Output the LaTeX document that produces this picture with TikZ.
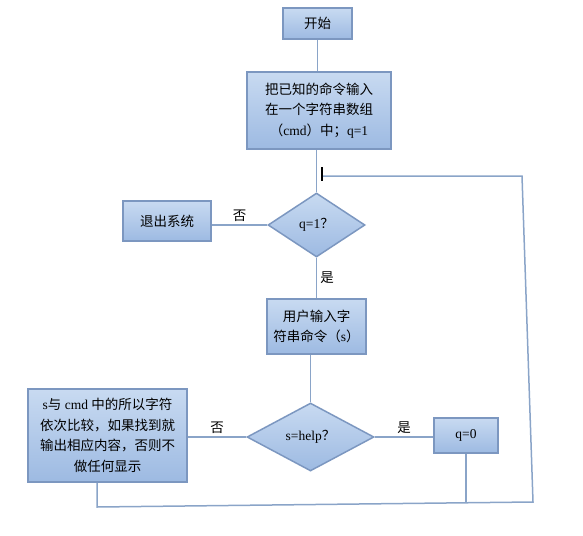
\documentclass[tikz,border=0pt]{standalone}
\usepackage{fontspec}
\setmainfont{Liberation Serif}
\newfontfamily\cjkfont{Noto Sans CJK SC}
\usetikzlibrary{shapes.geometric}
\definecolor{lineblue}{HTML}{8AA4C8}
\definecolor{edgeblue}{HTML}{7C97C0}
\definecolor{topblue}{HTML}{C8DAF1}
\definecolor{botblue}{HTML}{9DBAE2}
\newcommand{\zh}[1]{{\cjkfont #1}}
\tikzstyle{box}=[draw=edgeblue, line width=1.5pt, top color=topblue, bottom color=botblue, align=center, inner sep=2pt, font=\fontsize{13.5}{20.5}\selectfont]
\tikzstyle{test}=[box, diamond, inner sep=0pt]
\tikzstyle{link}=[draw=lineblue, line width=1.5pt]
\tikzstyle{lbl}=[font=\fontsize{13.5}{16}\selectfont\cjkfont, inner sep=3pt]

\begin{document}
\begin{tikzpicture}[x=1pt,y=-1pt]
\useasboundingbox (0,0) rectangle (583,535);
\coordinate (bl) at (97,507);
\coordinate (br) at (533,502);
\coordinate (tr) at (522,176);
\coordinate (tl) at (322,176);
\coordinate (bm) at (466,503);
\node[box, minimum width=69pt, minimum height=31pt] (start) at (317.5,23.5) {\zh{开始}};
\node[box, minimum width=144pt, minimum height=77pt] (init) at (319,110.5) {\zh{把已知的命令输入}\\\zh{在一个字符串数组}\\\zh{（}cmd\zh{）中；}q=1};
\node[test, minimum width=97pt, minimum height=64pt] (q1) at (316.5,225) {q=1\zh{？}};
\node[box, minimum width=88pt, minimum height=40pt] (exit) at (167,221) {\zh{退出系统}};
\node[box, minimum width=99pt, minimum height=55pt] (input) at (316.5,326.5) {\zh{用户输入字}\\\zh{符串命令（}s\zh{）}};
\node[test, minimum width=127pt, minimum height=68pt] (help) at (310.5,437) {s=help\zh{？}};
\node[box, minimum width=159pt, minimum height=93pt] (cmp) at (107.5,435.5) {s\zh{与} cmd \zh{中的所以字符}\\\zh{依次比较，如果找到就}\\\zh{输出相应内容，否则不}\\\zh{做任何显示}};
\node[box, minimum width=64pt, minimum height=35pt] (q0) at (466,435.5) {q=0};
\draw[link] (start.south) -- (start.south |- init.north);
\draw[link] (init.south -| q1.north) -- (q1.north);
\draw[link] (q1.west) -- node[lbl, above] {否} (q1.west -| exit.east);
\draw[link] (q1.south) -- node[lbl, right] {是} (q1.south |- input.north);
\draw[link] (input.south -| help.north) -- (help.north);
\draw[link] (help.west) -- node[lbl, above] {否} (help.west -| cmp.east);
\draw[link] (help.east) -- node[lbl, above] {是} (help.east -| q0.west);
\draw[link] (q0.south) -- (q0.south |- bm);
\draw[link] (cmp.south -| bl) -- (bl) -- (br) -- (tr) -- (tl);
\draw[black, line width=1.5pt] (tl) +(0,-9) -- +(0,5);
\end{tikzpicture}
\end{document}
